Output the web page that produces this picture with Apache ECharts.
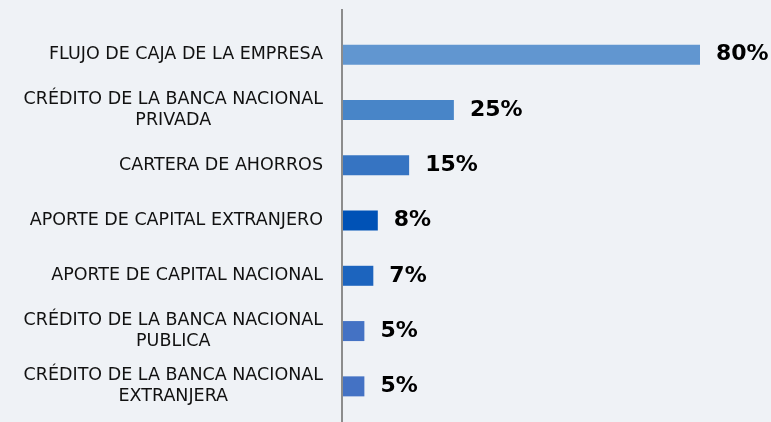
<!DOCTYPE html>
<html>
<head>
<meta charset="utf-8">
<script src="https://cdn.jsdelivr.net/npm/echarts@6/dist/echarts.min.js"></script>
<style>
html,body{margin:0;padding:0;background:#EFF2F6;}
#c{width:771px;height:422px;}
</style>
</head>
<body>
<div id="c"></div>
<script>
const categories = [
  'FLUJO DE CAJA DE LA EMPRESA',
  'CRÉDITO DE LA BANCA NACIONAL\nPRIVADA',
  'CARTERA DE AHORROS',
  'APORTE DE CAPITAL EXTRANJERO',
  'APORTE DE CAPITAL NACIONAL',
  'CRÉDITO DE LA BANCA NACIONAL\nPUBLICA',
  'CRÉDITO DE LA BANCA NACIONAL\nEXTRANJERA'
];
const values = [80, 25, 15, 8, 7, 5, 5];
const barColors = ['#6196D0', '#4885C8', '#3674C2', '#0052B6', '#1C64BE', '#4472C4', '#4472C4'];

const chart = echarts.init(document.getElementById('c'), null, {renderer: 'canvas'});
const option = {
  backgroundColor: '#EFF2F6',
  animation: false,
  grid: {left: 342, right: 71, top: 27, bottom: 8, containLabel: false},
  xAxis: {type: 'value', min: 0, max: 80, show: false},
  yAxis: {
    type: 'category',
    inverse: true,
    data: categories,
    axisLine: {show: false},
    axisTick: {show: false},
    splitLine: {show: false},
    axisLabel: {
      margin: 19,
      align: 'right',
      formatter: v => v.split('\n').map(s => '{c|' + s + '}').join('\n'),
      rich: {
        c: {
          align: 'center',
          color: '#111111',
          fontFamily: 'DejaVu Sans',
          fontSize: 17.5,
          lineHeight: 21
        }
      }
    }
  },
  series: [{
    type: 'bar',
    barWidth: 20,
    data: values.map((v, i) => ({value: v, itemStyle: {color: barColors[i]}})),
    label: {
      show: true,
      position: 'right',
      distance: 16,
      formatter: p => p.value + '%',
      color: '#000000',
      fontFamily: 'DejaVu Sans',
      fontWeight: 'bold',
      fontSize: 22
    }
  }]
};
chart.setOption(option);
const x0 = chart.convertToPixel({xAxisIndex: 0}, 0);
chart.setOption({
  graphic: [{
    type: 'line',
    shape: {x1: x0, y1: 9, x2: x0, y2: 422},
    style: {stroke: '#8C8C8C', lineWidth: 2},
    z: 10
  }]
});
</script>
</body>
</html>
